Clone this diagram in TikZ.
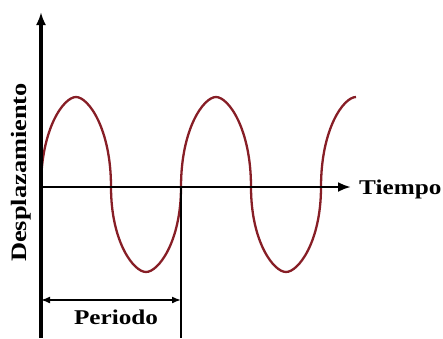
\documentclass[tikz,border=0pt]{standalone}
\usepackage{fontspec}
\setmainfont{Liberation Serif}
\usetikzlibrary{arrows.meta}
\definecolor{wavered}{RGB}{135,30,38}
\tikzset{
  axis/.style={line width=3.2pt,-{Latex[length=13pt,width=10pt]}},
  haxis/.style={line width=2.8pt,-{Latex[length=13pt,width=10pt]}},
  thinline/.style={line width=1.6pt},
  dimarrow/.style={line width=1.6pt,{Latex[length=9pt,width=7pt]}-{Latex[length=9pt,width=7pt]}},
  wave/.style={line width=2.3pt,wavered,line join=round},
  lbl/.style={inner sep=0pt,font=\fontsize{21}{21}\selectfont\bfseries}
}
\begin{document}
\begin{tikzpicture}[x=1pt,y=-1pt]
\useasboundingbox (0,0) rectangle (443,338);
\coordinate (ybot) at (41,338);
\coordinate (ytop) at (41,12);
\coordinate (O) at (41,187);
\coordinate (xend) at (351,187);
\coordinate (P) at (181,187);
\coordinate (Pbot) at (181,338);
\coordinate (dL) at (41,300);
\coordinate (dR) at (181,300);
% wave
\draw[wave] (O)
  .. controls (41,128.5) and (63.75,97) .. (76,97)
  .. controls (88.25,97) and (111,128.5) .. (111,187)
  .. controls (111,242) and (133.75,272) .. (146,272)
  .. controls (158.25,272) and (181,242) .. (P)
  .. controls (181,128.5) and (203.75,97) .. (216,97)
  .. controls (228.25,97) and (251,128.5) .. (251,187)
  .. controls (251,242) and (273.75,272) .. (286,272)
  .. controls (298.25,272) and (321,242) .. (321,187)
  .. controls (321,128.5) and (343.75,97) .. (356,97);
% axes
\draw[axis] (ybot) -- (ytop);
\draw[haxis] (O) -- (xend);
\draw[thinline] (P) -- (Pbot);
\draw[dimarrow] (dL) -- (dR);
% labels
\node[lbl,anchor=base west] (tiempo) at (359,194) {\scalebox{1.2}[1]{Tiempo}};
\node[lbl,anchor=base] (periodo) at (116,324) {\scalebox{1.2}[1]{Periodo}};
\node[lbl,anchor=base,rotate=90,font=\fontsize{22}{22}\selectfont\bfseries] (desp) at (26,172.5) {\scalebox{1.2}[1]{Desplazamiento}};
\end{tikzpicture}
\end{document}
